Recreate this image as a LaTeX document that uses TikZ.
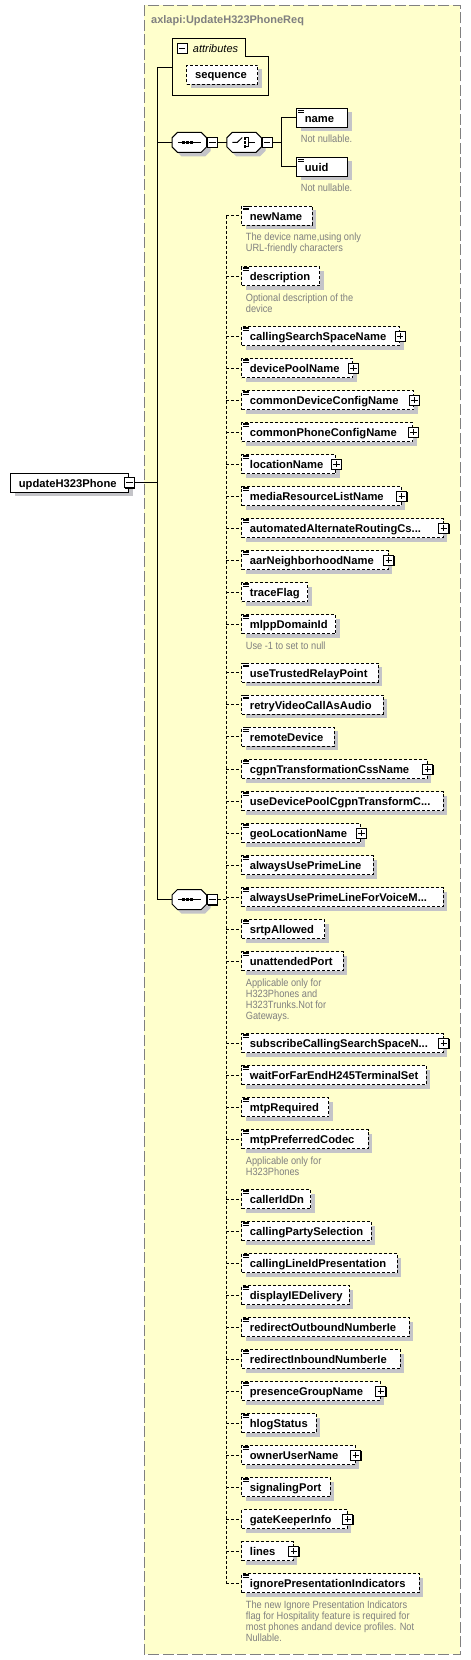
\documentclass[tikz,border=0pt]{standalone}
\usepackage{fontspec}
\setmainfont{Liberation Sans}
\newfontfamily\docfont[FakeStretch=0.88]{Liberation Sans}
\usetikzlibrary{shadows}
\definecolor{bgyellow}{RGB}{255,255,204}
\definecolor{framegray}{RGB}{128,128,128}
\definecolor{shadowc}{RGB}{196,196,200}
\definecolor{docgray}{RGB}{128,128,128}
\tikzset{
  conn/.style={line width=1pt},
  optconn/.style={line width=1pt, dash pattern=on 3pt off 2pt},
  elemnode/.style={anchor=west, minimum height=19pt, inner sep=0pt, fill=white, line width=1pt, draw=black,
    general shadow={fill=shadowc, shadow xshift=4pt, shadow yshift=-4pt}},
  optb/.style={dash pattern=on 3pt off 2pt},
  reqb/.style={},
  elemtext/.style={anchor=base west, inner sep=0pt, font=\fontsize{11.2}{13}\selectfont\bfseries},
  doctext/.style={anchor=base west, inner sep=0pt, text=docgray, font=\docfont\fontsize{10.5}{11}\selectfont},
  pmbox/.style={draw=black, fill=white, line width=1pt, minimum size=10pt, inner sep=0pt,
    general shadow={fill=black, shadow xshift=1pt, shadow yshift=-1pt}},
}
\newcommand\elem[6]{%
  \pgfmathsetmacro\elw{#4-#2}%
  \node[elemnode,#6,minimum width=\elw pt] (#1) at (#2,#3) {};
  \node[elemtext] (#1t) at ([xshift=8.4pt,yshift=-4.5pt]#1.west) {#5};
}
\newcommand\elicon[1]{%
  \foreach \d in {1.0,2.6,4.2}{\draw[line width=0.8pt] ([shift={(1.8,\d)}]#1.north west) -- ++(5.4,0);}}
\newcommand\pbox[1]{%
  \node[pmbox] (#1p) at (#1.east) {};
  \draw[line width=1pt] ([xshift=-3.2pt]#1p.center) -- ([xshift=3.2pt]#1p.center)
    ([yshift=-3.2pt]#1p.center) -- ([yshift=3.2pt]#1p.center);}
\newcommand\minbox[3]{%
  \node[pmbox,#3] (#1) at (#2) {};
  \draw[line width=1pt] ([xshift=-3.2pt]#1.center) -- ([xshift=3.2pt]#1.center);}
\newcommand\doc[4]{\node[doctext] (#1) at (#2,#3) {\parbox[t]{230pt}{\raggedright #4}};}
\newcommand\octpath{(-11.85,-10)--(11.85,-10)--(17.35,-4.5)--(17.35,4.5)--(11.85,10)--(-11.85,10)--(-17.35,4.5)--(-17.35,-4.5)--cycle}
\newcommand\octa[3]{%
  \begin{scope}[shift={(#2,#3)}]
    \fill[shadowc,shift={(4,4)}] \octpath;
    \draw[line width=1pt, fill=white] \octpath;
  \end{scope}
  \node[inner sep=0pt, minimum width=34.7pt, minimum height=20pt] (#1) at (#2,#3) {};}
\begin{document}
\begin{tikzpicture}[x=1pt,y=-1pt]
\useasboundingbox (0,0) rectangle (471,1660);
\fill[white] (0,0) rectangle (471,1660);
% frame
\draw[fill=bgyellow, draw=framegray, line width=1.3pt, dash pattern=on 11pt off 3.5pt] (144.3,5.3) rectangle (460.3,1654.3);
\node[anchor=base west, inner sep=0pt, text=framegray, font=\fontsize{11}{13}\selectfont\bfseries] (title) at (151,23.3) {axlapi:UpdateH323PhoneReq};
% attributes
\node[inner sep=0pt, minimum width=96.3pt, minimum height=57.4pt, anchor=north west] (attr) at (172,38.3) {};
\draw[line width=1pt] (172,38.3) -- (245,38.3) -- (245,56.3) -- (268.3,56.3) -- (268.3,95.7) -- (172,95.7) -- cycle;
\minbox{attrm}{182,48.2}{}
\node[anchor=base west, inner sep=0pt, font=\fontsize{11}{13}\selectfont\itshape] (attrt) at (192.7,52.3) {attributes};
\node[elemnode, optb, minimum width=71pt] (seqa) at (186,74.8) {};
\node[elemtext] (seqat) at (195,78.7) {sequence};
% root
\elem{root}{10.3}{482.8}{128.3}{updateH323Phone}{reqb}
\minbox{rootm}{root.east}{}
% junctions
\coordinate (jtop) at (157,67);
\coordinate (jbot) at (157,899.5);
\draw[conn] (jtop) -- (jbot);
\draw[conn] (rootm.east) -- (rootm.east -| jtop);
\draw[conn] (jtop) -- (attr.west |- jtop);
% first sequence + choice
\octa{seq1}{189.35}{142.3}
\minbox{seq1m}{seq1.east}{anchor=west}
\octa{cho}{244.15}{142.3}
\minbox{chom}{cho.east}{anchor=west}
\begin{scope}[shift={(189.35,142.3)}]
  \draw[line width=1pt] (-11.6,0) -- (11.6,0);
  \foreach \sx in {-5.6,-1.6,2.4} \fill (\sx-1.3,-1.3) rectangle (\sx+1.3,1.3);
\end{scope}
\begin{scope}[shift={(244.15,142.3)}]
  \draw[line width=1pt] (-11.8,0) -- (-6.8,0) -- (-1.9,-4.8);
  \foreach \sy in {-4,0,4} \fill (-0.5,\sy-1.2) rectangle (1.9,\sy+1.2);
  \draw[line width=1pt] (1.9,-4.6) -- (4.6,-4.6) -- (4.6,4.6) -- (1.9,4.6) (4.6,0) -- (11.2,0);
\end{scope}
\draw[conn] (jtop |- seq1.west) -- (seq1.west);
\draw[conn] (seq1m.east) -- (cho.west);
\elem{name}{296.3}{117.8}{347.3}{name}{reqb}\elicon{name}
\elem{uuid}{296.3}{166.8}{347.3}{uuid}{reqb}\elicon{uuid}
\doc{namedoc}{300.7}{142.8}{Not nullable.}
\doc{uuiddoc}{300.7}{191.8}{Not nullable.}
\coordinate (cj) at (281.3,142.3);
\draw[conn] (chom.east) -- (cj);
\draw[conn] (cj |- name.west) -- (cj |- uuid.west);
\draw[conn] (cj |- name.west) -- (name.west);
\draw[conn] (cj |- uuid.west) -- (uuid.west);
% second sequence
\octa{seq2}{189.35}{899.5}
\minbox{seq2m}{seq2.east}{anchor=west}
\begin{scope}[shift={(189.35,899.5)}]
  \draw[line width=1pt] (-11.6,0) -- (11.6,0);
  \foreach \sx in {-5.6,-1.6,2.4} \fill (\sx-1.3,-1.3) rectangle (\sx+1.3,1.3);
\end{scope}
\draw[conn] (jbot) -- (seq2.west);
% children
\elem{e1}{241.3}{215.5}{311.7}{newName}{optb}\elicon{e1}
\doc{d1}{245.7}{240.5}{The device name,using only\\URL-friendly characters}
\elem{e2}{241.3}{276}{319.3}{description}{optb}\elicon{e2}
\doc{d2}{245.7}{301}{Optional description of the\\device}
\elem{e3}{241.3}{336}{399}{callingSearchSpaceName}{optb}\elicon{e3}
\elem{e4}{241.3}{368}{352.3}{devicePoolName}{optb}\elicon{e4}
\elem{e5}{241.3}{400}{413.3}{commonDeviceConfigName}{optb}\elicon{e5}
\elem{e6}{241.3}{432}{412.3}{commonPhoneConfigName}{optb}\elicon{e6}
\elem{e7}{241.3}{464}{335.3}{locationName}{optb}\elicon{e7}
\elem{e8}{241.3}{496}{400.7}{mediaResourceListName}{optb}\elicon{e8}
\elem{e9}{241.3}{528}{442.7}{automatedAlternateRoutingCs...}{optb}\elicon{e9}
\elem{e10}{241.3}{560}{387.7}{aarNeighborhoodName}{optb}\elicon{e10}
\elem{e11}{241.3}{592}{307.3}{traceFlag}{optb}\elicon{e11}
\elem{e12}{241.3}{624}{335.3}{mlppDomainId}{optb}\elicon{e12}
\doc{d12}{245.7}{649}{Use -1 to set to null}
\elem{e13}{241.3}{672.5}{377.7}{useTrustedRelayPoint}{optb}\elicon{e13}
\elem{e14}{241.3}{704.5}{382.7}{retryVideoCallAsAudio}{optb}\elicon{e14}
\elem{e15}{241.3}{736.8}{333.7}{remoteDevice}{optb}\elicon{e15}
\elem{e16}{241.3}{769}{426.7}{cgpnTransformationCssName}{optb}\elicon{e16}
\elem{e17}{241.3}{801}{442.7}{useDevicePoolCgpnTransformC...}{optb}\elicon{e17}
\elem{e18}{241.3}{833}{360.3}{geoLocationName}{optb}\elicon{e18}
\elem{e19}{241.3}{865}{372.7}{alwaysUsePrimeLine}{optb}\elicon{e19}
\elem{e20}{241.3}{897}{442.7}{alwaysUsePrimeLineForVoiceM...}{optb}\elicon{e20}
\elem{e21}{241.3}{929}{324.3}{srtpAllowed}{optb}\elicon{e21}
\elem{e22}{241.3}{961}{342.7}{unattendedPort}{optb}\elicon{e22}
\doc{d22}{245.7}{986}{Applicable only for\\H323Phones and\\H323Trunks.Not for\\Gateways.}
\elem{e23}{241.3}{1043}{442.7}{subscribeCallingSearchSpaceN...}{optb}\elicon{e23}
\elem{e24}{241.3}{1075}{425.7}{waitForFarEndH245TerminalSet}{optb}\elicon{e24}
\elem{e25}{241.3}{1107}{328.3}{mtpRequired}{optb}\elicon{e25}
\elem{e26}{241.3}{1139}{367.7}{mtpPreferredCodec}{optb}\elicon{e26}
\doc{d26}{245.7}{1164}{Applicable only for\\H323Phones}
\elem{e27}{241.3}{1199}{310.3}{callerIdDn}{optb}\elicon{e27}
\elem{e28}{241.3}{1231}{370.7}{callingPartySelection}{optb}\elicon{e28}
\elem{e29}{241.3}{1263}{396.7}{callingLineIdPresentation}{optb}\elicon{e29}
\elem{e30}{241.3}{1295}{348.7}{displayIEDelivery}{optb}\elicon{e30}
\elem{e31}{241.3}{1327}{408.7}{redirectOutboundNumberIe}{optb}\elicon{e31}
\elem{e32}{241.3}{1359}{399.7}{redirectInboundNumberIe}{optb}\elicon{e32}
\elem{e33}{241.3}{1391}{379.7}{presenceGroupName}{optb}\elicon{e33}
\elem{e34}{241.3}{1423}{315.7}{hlogStatus}{optb}\elicon{e34}
\elem{e35}{241.3}{1455}{354.7}{ownerUserName}{optb}\elicon{e35}
\elem{e36}{241.3}{1487}{329.7}{signalingPort}{optb}\elicon{e36}
\elem{e37}{241.3}{1519}{346.7}{gateKeeperInfo}{optb}
\elem{e38}{241.3}{1551}{292.7}{lines}{optb}
\elem{e39}{241.3}{1583}{418.7}{ignorePresentationIndicators}{optb}\elicon{e39}
\doc{d39}{245.7}{1608}{The new Ignore Presentation Indicators\\flag for Hospitality feature is required for\\most phones andand device profiles. Not\\Nullable.}
\foreach \k in {3,4,5,6,7,8,9,10,16,18,23,33,35,37,38} {\pbox{e\k}}
% child connectors
\coordinate (cbus) at (226.3,899.5);
\draw[optconn] (seq2m.east) -- (cbus);
\draw[optconn] (e1.west -| cbus) -- (e39.west -| cbus);
\foreach \i in {1,...,39} {\draw[optconn] (e\i.west -| cbus) -- (e\i.west);}
\end{tikzpicture}
\end{document}
